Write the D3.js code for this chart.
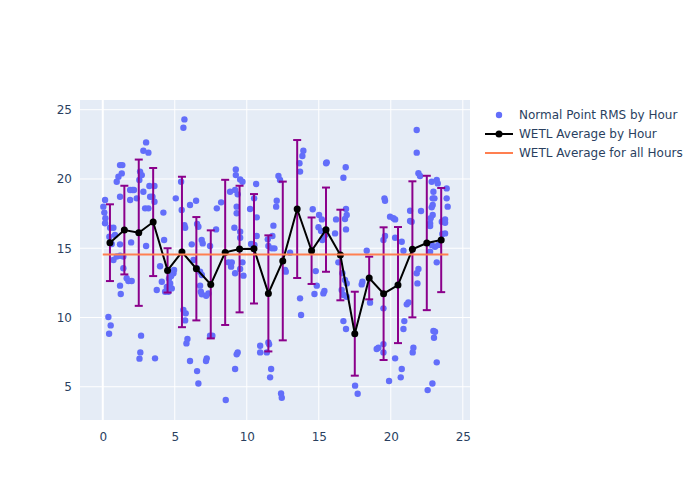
<!DOCTYPE html>
<html><head><meta charset="utf-8">
<script src="https://cdn.jsdelivr.net/npm/d3@7"></script>
<style>body{margin:0;background:#fff;font-family:"DejaVu Sans",sans-serif;}</style>
</head><body><svg id="c" width="700" height="500"></svg>
<script>
// Per-hour WETL average (plotted at hour + 0.5) and its error
const hours = d3.range(24);
const avgValues = [15.40,16.31,16.12,16.89,13.40,14.73,13.52,12.39,14.70,14.94,14.96,11.74,
                   14.08,17.83,14.82,16.34,14.51,8.83,12.85,11.72,12.34,14.92,15.38,15.59];
const errValues = [2.77,3.20,5.28,3.90,1.60,5.43,3.73,3.90,5.24,4.57,3.95,4.19,
                   5.73,4.98,2.40,3.04,3.27,3.03,1.54,4.79,4.19,4.91,4.85,3.76];
const overallAvg = 14.55;
const overallRange = [0, 24];
// Normal point RMS samples: hour-of-day (x) and RMS (y)
const rmsX = [0.16,0.04,0.11,0.18,0.16,0.51,0.74,0.46,0.85,0.62,0.74,0.39,0.55,0.44,0.97,
  1.20,1.36,1.32,1.09,0.97,1.20,1.90,1.90,1.20,1.97,1.43,1.20,1.25,1.66,1.78,2.01,1.20,1.43,
  2.06,2.17,3.01,2.82,3.17,2.59,2.71,2.54,2.82,2.36,3.01,2.66,2.61,2.55,
  3.24,3.59,3.29,3.45,3.59,2.94,3.17,3.75,3.63,3.98,
  4.21,4.26,4.10,4.33,4.45,4.56,4.60,4.68,4.79,4.91,4.95,4.75,
  5.67,5.60,5.07,5.44,5.48,5.67,5.72,5.60,5.76,5.72,5.88,5.81,
  6.06,6.48,6.55,6.64,6.18,6.87,6.94,6.06,6.55,6.64,6.30,6.53,6.76,6.88,6.76,6.81,6.88,
  7.18,7.34,7.45,7.22,7.17,7.45,7.61,
  7.92,7.87,8.22,8.84,8.73,8.96,8.91,8.54,
  9.24,9.24,9.54,9.70,9.19,9.37,9.30,9.30,9.14,9.54,9.54,9.19,9.54,9.77,9.70,9.37,9.30,9.19,
  10.65,10.51,10.23,10.69,10.69,10.30,10.53,10.93,10.93,
  11.85,11.78,11.46,11.50,11.74,11.92,11.50,11.55,11.39,11.69,11.62,
  12.20,12.31,12.08,12.04,12.38,12.43,12.71,12.66,
  13.01,13.70,13.66,13.86,13.93,13.70,13.77,
  14.58,14.98,14.79,14.86,14.70,
  15.02,15.21,15.16,15.25,15.44,15.55,15.51,15.32,15.39,
  16.13,16.20,16.87,16.71,16.89,16.94,16.82,16.89,16.36,16.64,16.82,16.94,16.59,16.71,16.94,16.71,16.89,
  17.52,17.70,
  18.33,18.03,17.98,18.56,
  19.56,19.60,19.95,19.60,19.49,19.02,19.14,19.49,19.49,19.49,19.88,
  20.18,20.30,20.30,20.76,20.88,20.30,20.76,20.69,20.88,20.94,
  21.80,21.80,21.34,21.34,21.45,21.11,21.22,21.57,21.52,21.80,21.92,21.85,21.92,
  22.03,22.10,22.84,22.96,22.91,22.91,22.84,22.91,22.77,22.73,22.73,22.84,22.73,22.96,22.89,22.56,23.00,
  23.19,23.26,23.03,23.88,23.88,23.95,23.77,23.54,23.77,23.77,23.58,23.07,23.31,23.07,23.19,23.19];
const rmsY = [18.48,18.00,17.57,17.16,16.80,16.48,16.48,15.83,15.95,15.30,14.15,10.03,9.43,8.83,14.40,
  21.00,21.00,20.40,20.16,19.80,18.72,19.20,18.48,15.28,15.42,13.55,12.30,11.70,12.83,12.63,12.63,14.46,14.40,
  19.20,19.20,22.64,22.04,21.90,20.53,20.28,19.92,19.08,18.60,15.16,8.69,7.48,7.03,
  19.49,19.49,18.72,18.72,18.36,17.88,17.88,11.98,7.05,13.70,
  17.57,15.59,12.58,11.86,12.20,11.86,12.82,12.46,12.10,13.19,13.43,13.00,
  24.30,23.70,18.60,19.80,17.76,16.67,16.48,10.54,10.30,9.79,8.45,8.13,
  18.12,18.43,16.75,16.55,15.28,15.59,15.35,6.86,6.13,5.24,14.15,13.55,13.31,13.07,12.30,11.86,11.67,
  11.57,11.74,15.16,7.05,6.86,8.69,8.69,
  17.88,16.36,18.31,19.08,13.98,13.98,13.67,4.04,
  20.69,20.28,19.97,19.80,19.20,18.89,18.00,17.52,16.48,16.19,15.76,13.19,13.50,13.02,13.98,7.48,7.34,6.28,
  19.64,18.60,17.83,17.23,15.88,15.30,15.23,7.96,7.48,
  16.63,15.88,15.64,15.16,14.99,14.99,8.20,8.06,7.48,6.28,5.68,
  20.21,19.92,18.43,18.00,4.52,4.21,13.31,13.43,
  14.68,20.53,21.13,21.66,22.04,11.38,10.18,
  17.81,16.51,13.35,12.30,11.70,
  17.40,17.08,16.24,15.59,15.95,21.20,21.13,11.74,11.91,
  16.07,17.08,20.84,20.09,17.83,17.40,17.11,16.36,13.98,13.19,12.71,12.46,11.98,11.62,11.50,9.74,9.17,
  5.08,4.50,
  14.82,12.58,12.39,11.07,
  18.60,18.43,17.28,15.88,15.59,7.72,7.82,8.08,7.48,10.66,5.41,
  17.16,17.08,15.76,15.47,14.82,7.05,6.28,5.68,9.17,9.74,
  23.53,21.90,17.71,16.96,16.92,10.95,11.09,7.82,7.48,13.19,13.50,12.46,20.41,
  20.21,17.69,19.80,19.08,18.60,18.12,17.95,17.40,17.16,16.80,16.60,15.23,14.75,9.02,5.24,4.76,8.54,
  19.92,19.68,18.60,19.32,18.60,18.00,17.08,16.92,16.84,16.07,16.03,15.11,15.23,8.97,6.76,13.98];
const xTicks = [0,5,10,15,20,25];
const yTicks = [5,10,15,20,25];
const legendLabels = ["Normal Point RMS by Hour","WETL Average by Hour","WETL Average for all Hours"];

const FONT = "'DejaVu Sans', sans-serif";
const svg = d3.select("#c");
const L = 80, R = 470, T = 100, B = 420;
const x = d3.scaleLinear().domain([-1.58, 25.5]).range([L, R]);
const y = d3.scaleLinear().domain([2.6, 25.7]).range([B, T]);

svg.append("rect").attr("x", L).attr("y", T).attr("width", R - L).attr("height", B - T).attr("fill", "#E5ECF6");
// grid
svg.append("g").selectAll("line").data(xTicks).join("line")
  .attr("x1", d => x(d)).attr("x2", d => x(d)).attr("y1", T).attr("y2", B)
  .attr("stroke", "#fff").attr("stroke-width", d => d === 0 ? 2 : 1);
svg.append("g").selectAll("line").data(yTicks).join("line")
  .attr("x1", L).attr("x2", R).attr("y1", d => y(d)).attr("y2", d => y(d))
  .attr("stroke", "#fff").attr("stroke-width", 1);

// axes labels via d3 axes
const xAxis = d3.axisBottom(x).tickValues(xTicks).tickSize(0).tickPadding(12);
const gx = svg.append("g").attr("transform", `translate(0,${B})`).call(xAxis);
const yAxis = d3.axisLeft(y).tickValues(yTicks).tickSize(0).tickPadding(8);
const gy = svg.append("g").attr("transform", `translate(${L},0)`).call(yAxis);
[gx, gy].forEach(g => {
  g.select(".domain").remove();
  g.selectAll("text").attr("fill", "#2a3f5f").style("font-size", "12px").style("font-family", FONT);
});

// scatter
const pts = rmsX.map((v, i) => [v, rmsY[i]]);
svg.append("g").selectAll("circle").data(pts).join("circle")
  .attr("cx", d => x(d[0])).attr("cy", d => y(d[1])).attr("r", 3.2)
  .attr("fill", "#636EFA");

// error bars
const avg = hours.map((h, i) => ({x: h + 0.5, y: avgValues[i], e: errValues[i]}));
const eb = svg.append("g").attr("stroke", "#8B008B").attr("stroke-width", 2);
eb.selectAll("line.v").data(avg).join("line").attr("class", "v")
  .attr("x1", d => x(d.x)).attr("x2", d => x(d.x)).attr("y1", d => y(d.y - d.e)).attr("y2", d => y(d.y + d.e));
eb.selectAll("line.t").data(avg).join("line").attr("class", "t")
  .attr("x1", d => x(d.x) - 4).attr("x2", d => x(d.x) + 4).attr("y1", d => y(d.y + d.e)).attr("y2", d => y(d.y + d.e));
eb.selectAll("line.b").data(avg).join("line").attr("class", "b")
  .attr("x1", d => x(d.x) - 4).attr("x2", d => x(d.x) + 4).attr("y1", d => y(d.y - d.e)).attr("y2", d => y(d.y - d.e));

// average line
svg.append("path").datum(avg)
  .attr("d", d3.line().x(d => x(d.x)).y(d => y(d.y)))
  .attr("fill", "none").attr("stroke", "#000").attr("stroke-width", 2);
svg.append("g").selectAll("circle").data(avg).join("circle")
  .attr("cx", d => x(d.x)).attr("cy", d => y(d.y)).attr("r", 3.5).attr("fill", "#000");

// overall average
svg.append("line").attr("x1", x(overallRange[0])).attr("x2", x(overallRange[1]))
  .attr("y1", y(overallAvg)).attr("y2", y(overallAvg))
  .attr("stroke", "#FF7F50").attr("stroke-width", 2);

// legend
const lg = svg.append("g").attr("transform", "translate(485,115)");
const rowH = 19;
lg.append("circle").attr("cx", 14).attr("cy", 0).attr("r", 3.2).attr("fill", "#636EFA");
lg.append("line").attr("x1", 0).attr("x2", 28).attr("y1", rowH).attr("y2", rowH).attr("stroke", "#000").attr("stroke-width", 2);
lg.append("circle").attr("cx", 14).attr("cy", rowH).attr("r", 3.5).attr("fill", "#000");
lg.append("line").attr("x1", 0).attr("x2", 28).attr("y1", 2 * rowH).attr("y2", 2 * rowH).attr("stroke", "#FF7F50").attr("stroke-width", 2);
lg.selectAll("text").data(legendLabels).join("text")
  .attr("x", 34).attr("y", (d, i) => i * rowH).attr("dy", "0.35em")
  .attr("fill", "#2a3f5f").style("font-size", "12px").style("font-family", FONT)
  .text(d => d);
</script></body></html>
